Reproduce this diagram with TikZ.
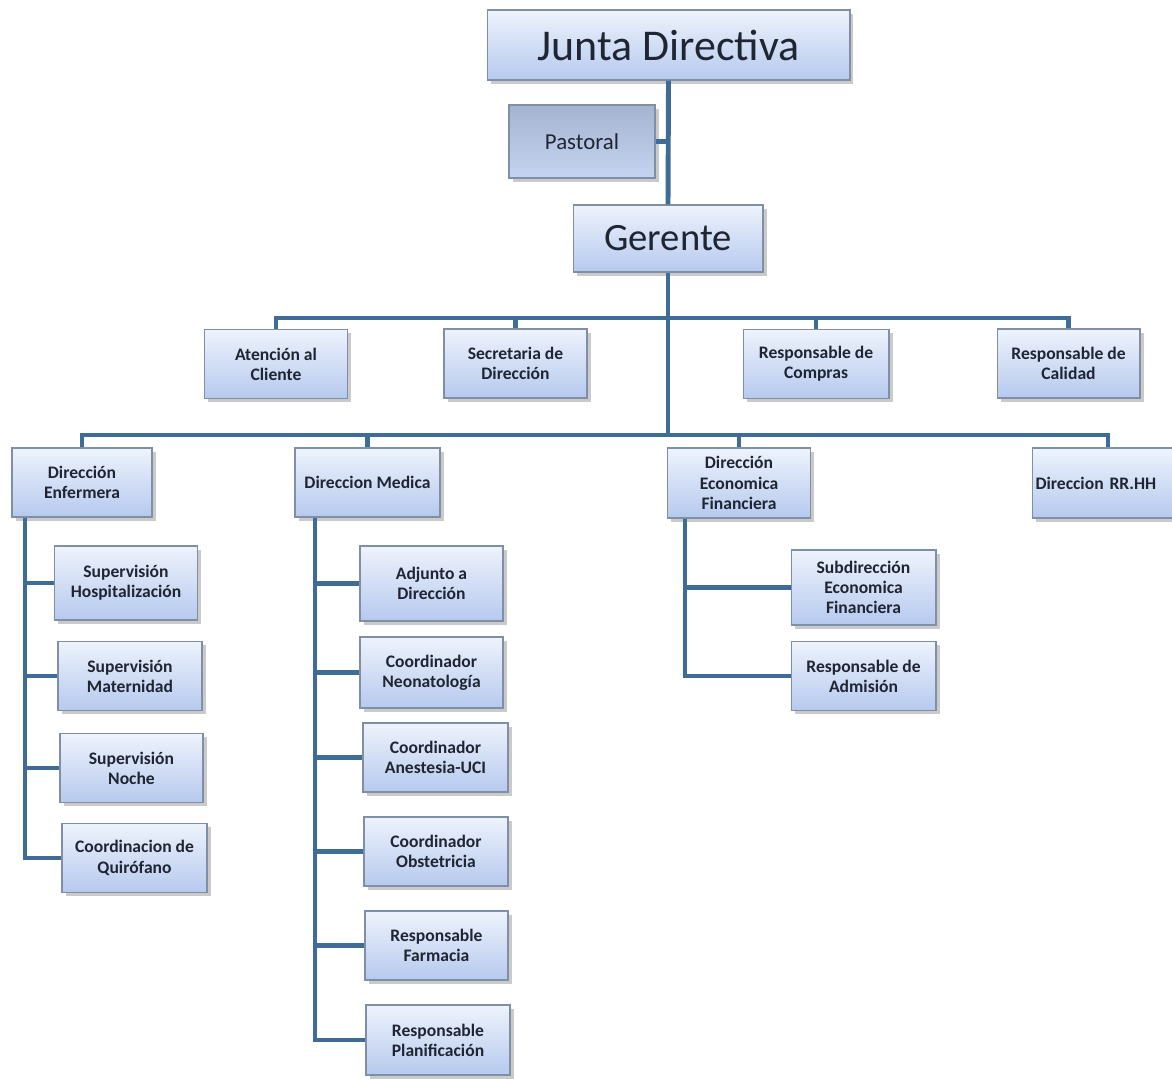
\documentclass[tikz,border=0pt]{standalone}
\usepackage{fontspec}
\setmainfont{Carlito}
\usetikzlibrary{shadows}

\definecolor{linkblue}{HTML}{3F6C96}
\definecolor{boxtop}{HTML}{EEF3FC}
\definecolor{boxbottom}{HTML}{B6C9EE}
\definecolor{boxline}{HTML}{7F8FA6}
\definecolor{boxtext}{HTML}{1F2533}

\tikzset{
  orgbox/.style={draw=boxline, line width=0.6pt, top color=boxtop, bottom color=boxbottom,
    drop shadow={shadow xshift=2pt, shadow yshift=-2pt, opacity=0.35, fill=black!60},
    text=boxtext, align=center, inner sep=1pt,
    font=\fontsize{10}{11.5}\selectfont\bfseries, minimum width=2.86cm, minimum height=1.38cm},
  link/.style={draw=linkblue, line width=2.8pt}
}

\begin{document}
\begin{tikzpicture}[x=0.02cm, y=-0.02cm]
  \useasboundingbox (0,0) rectangle (1172,1078);
  % top
  \node[orgbox, minimum width=7.26cm, minimum height=1.4cm, font=\fontsize{25}{28}\selectfont] (junta) at (668.5,45) {Junta Directiva};
  \node[orgbox, minimum width=2.92cm, minimum height=1.46cm, top color=boxbottom!85!black!90, bottom color=boxbottom!80, font=\fontsize{13}{15}\selectfont] (pastoral) at (582,141.5) {Pastoral};
  \node[orgbox, minimum width=3.8cm, minimum height=1.34cm, font=\fontsize{22}{25}\selectfont] (gerente) at (668,238.5) {Gerente};
  % staff row
  \node[orgbox] (atencion) at (276,364) {Atención al\\Cliente};
  \node[orgbox] (secretaria) at (515.5,363.5) {Secretaria de\\Dirección};
  \node[orgbox, minimum width=2.92cm] (compras) at (816,364) {Responsable de\\Compras};
  \node[orgbox] (calidad) at (1068.5,363.5) {Responsable de\\Calidad};
  % direcciones
  \node[orgbox, minimum width=2.8cm] (enf) at (82,482.5) {Dirección\\Enfermera};
  \node[orgbox, minimum width=2.9cm] (medica) at (367.5,482.5) {Direccion Medica};
  \node[orgbox, minimum height=1.4cm] (econ) at (739,483) {Dirección\\Economica\\Financiera};
  \node[orgbox, minimum width=3.04cm, minimum height=1.4cm, align=left, text width=2.9cm] (rrhh) at (1108,483) {Direccion RR.HH};
  % enfermeria
  \node[orgbox, minimum height=1.48cm] (hosp) at (126,583) {Supervisión\\Hospitalización};
  \node[orgbox, minimum width=2.88cm] (mater) at (130,676) {Supervisión\\Maternidad};
  \node[orgbox] (noche) at (131.5,768) {Supervisión\\Noche};
  \node[orgbox, minimum width=2.9cm] (quir) at (134.5,858) {Coordinacion de\\Quirófano};
  % medica
  \node[orgbox, minimum height=1.5cm] (adjunto) at (431.5,583.5) {Adjunto a\\Dirección};
  \node[orgbox, minimum height=1.42cm] (neo) at (431.5,672.5) {Coordinador\\Neonatología};
  \node[orgbox, minimum width=2.9cm] (anest) at (435.5,757.5) {Coordinador\\Anestesia-UCI};
  \node[orgbox, minimum width=2.88cm] (obst) at (436,851.5) {Coordinador\\Obstetricia};
  \node[orgbox] (farm) at (436.5,945.5) {Responsable\\Farmacia};
  \node[orgbox, minimum width=2.88cm, minimum height=1.4cm] (plan) at (438,1040) {Responsable\\Planificación};
  % economica
  \node[orgbox, minimum width=2.9cm, minimum height=1.5cm] (subdir) at (863.5,587.5) {Subdirección\\Economica\\Financiera};
  \node[orgbox, minimum width=2.9cm] (admision) at (863.5,676) {Responsable de\\Admisión};

  % buses
  \coordinate (busA) at (0,318);
  \coordinate (busB) at (0,435);
  \coordinate (enfT) at (25,0);
  \coordinate (medT) at (315,0);
  \coordinate (ecoT) at (685,0);

  \begin{scope}[on background layer/.try]
  \draw[link] (junta.south) -- (gerente.north);
  \draw[link] (pastoral.east) -- (pastoral.east -| junta.south);
  \draw[link] (gerente.south) -- (gerente.south |- busB);
  \draw[link, line cap=rect] (atencion.north |- busA) -- (calidad.north |- busA);
  \foreach \n in {atencion,secretaria,compras,calidad}
    \draw[link] (\n.north |- busA) -- (\n.north);
  \draw[link, line cap=rect] (enf.north |- busB) -- (rrhh.north |- busB);
  \foreach \n in {enf,medica,econ,rrhh}
    \draw[link] (\n.north |- busB) -- (\n.north);
  % ramas
  \draw[link] (enfT |- enf.south) -- (enfT |- quir.west) -- (quir.west);
  \foreach \n in {hosp,mater,noche}
    \draw[link] (enfT |- \n.west) -- (\n.west);
  \draw[link] (medT |- medica.south) -- (medT |- plan.west) -- (plan.west);
  \foreach \n in {adjunto,neo,anest,obst,farm}
    \draw[link] (medT |- \n.west) -- (\n.west);
  \draw[link] (ecoT |- econ.south) -- (ecoT |- admision.west) -- (admision.west);
  \draw[link] (ecoT |- subdir.west) -- (subdir.west);
  \end{scope}
\end{tikzpicture}
\end{document}
